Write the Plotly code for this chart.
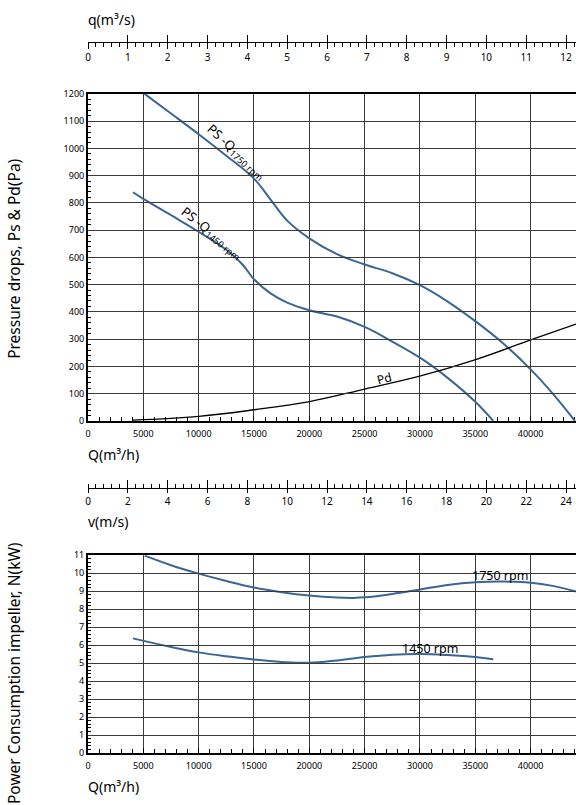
import plotly.graph_objects as go

W, H = 576, 805
L = 88
FONT = "Noto Sans"
BLUE = "#3b6592"

# ---------------- data ----------------
Q_MAX = 44100  # m3/h at right edge

# Static pressure 1750 rpm
Q_ps1750 = [5115, 7500, 10000, 12500, 15000, 16500, 18000, 20000, 22500, 25000, 27500, 30000, 32500, 35000, 37500, 40000, 42000, 44000]
P_ps1750 = [1200, 1128, 1052, 973, 889, 812, 735, 670, 612, 574, 542, 498, 438, 366, 285, 189, 100, 0]

# Static pressure 1450 rpm
Q_ps1450 = [4060, 5000, 7500, 10000, 12500, 14000, 15000, 16500, 18000, 20000, 22500, 25000, 27500, 30000, 32500, 35000, 36620]
P_ps1450 = [839, 815, 755, 694, 628, 572, 520, 468, 434, 406, 383, 345, 291, 232, 158, 70, 0]

# Dynamic pressure
Q_pd = [4060, 10010, 15040, 20030, 25020, 30050, 35030, 40000, 44100]
P_pd = [3, 17, 41, 71, 117, 165, 225, 297, 355]

# Power consumption
Q_n1750 = [5115, 7500, 10000, 12500, 15000, 17500, 20000, 22500, 24000, 25000, 27500, 30000, 32500, 35000, 37500, 40000, 42000, 44100]
N_n1750 = [10.98, 10.45, 9.98, 9.57, 9.21, 8.95, 8.76, 8.65, 8.63, 8.66, 8.85, 9.10, 9.35, 9.50, 9.54, 9.48, 9.30, 8.99]

Q_n1450 = [4060, 7500, 10000, 12500, 15000, 17500, 20000, 22500, 25000, 27500, 30000, 32500, 35000, 36620]
N_n1450 = [6.38, 5.90, 5.60, 5.38, 5.20, 5.07, 5.02, 5.15, 5.34, 5.47, 5.51, 5.45, 5.34, 5.22]

# axis conversions: q = Q/3600 (m3/s), v = 2*q (m/s)
q_max = Q_MAX / 3600.0
v_max = 2 * q_max

# ---------------- helpers ----------------
def py(p):
    return 1 - p / H

def pxx(p):
    return (p - L) / (W - L)

top_dom = [py(420.7), py(88.3)]
bot_dom = [py(758.3), py(557.3)]

fig = go.Figure()

def line(x, y, xa, ya, color, width):
    fig.add_trace(go.Scatter(x=x, y=y, xaxis=xa, yaxis=ya, mode="lines",
                             line=dict(color=color, width=width, shape="spline", smoothing=1.1),
                             hoverinfo="skip", showlegend=False, cliponaxis=True))

# dummy traces so the scale-only axes are drawn
for xa in ["x3", "x4"]:
    fig.add_trace(go.Scatter(x=[None], y=[None], xaxis=xa, yaxis="y", showlegend=False, hoverinfo="skip"))
for xa in ["x5", "x6"]:
    fig.add_trace(go.Scatter(x=[None], y=[None], xaxis=xa, yaxis="y2", showlegend=False, hoverinfo="skip"))

line(Q_ps1750, P_ps1750, "x", "y", BLUE, 2)
line(Q_ps1450, P_ps1450, "x", "y", BLUE, 2)
line(Q_pd, P_pd, "x", "y", "black", 1.3)
line(Q_n1750, N_n1750, "x2", "y2", BLUE, 2)
line(Q_n1450, N_n1450, "x2", "y2", BLUE, 2)

tickfont = dict(family=FONT, size=10, color="black")
xtickfont = dict(family=FONT, size=9, color="black")
grid = dict(showgrid=True, gridcolor="#3a3a3a", gridwidth=1)

xbase = dict(domain=[0, 1], range=[0, Q_MAX], dtick=5000, tick0=0, tickformat="d",
             ticks="inside", ticklen=5, tickcolor="black",
             minor=dict(dtick=1000, ticks="inside", ticklen=4, tickcolor="black"),
             showline=True, linecolor="black", linewidth=2, mirror=True, zeroline=False,
             tickfont=xtickfont, ticklabelstandoff=3, layer="below traces", **grid)

fig.update_layout(
    width=W, height=H,
    margin=dict(l=L, r=0, t=0, b=0, pad=0),
    paper_bgcolor="white", plot_bgcolor="rgba(0,0,0,0)",
    showlegend=False,
    font=dict(family=FONT, color="black"),
    xaxis=dict(anchor="y", **xbase),
    yaxis=dict(domain=top_dom, anchor="x", range=[0, 1200], dtick=100, ticks="inside", ticklen=5,
               tickcolor="black", minor=dict(dtick=20, ticks="inside", ticklen=3, tickcolor="black"),
               showline=True, linecolor="black", linewidth=2, zeroline=False,
               tickfont=dict(family=FONT, size=9, color="black"), **grid),
    xaxis2=dict(anchor="y2", **xbase),
    yaxis2=dict(domain=bot_dom, anchor="x2", range=[0, 11], dtick=1, ticks="inside", ticklen=5,
                tickcolor="black", minor=dict(dtick=0.2, ticks="inside", ticklen=3, tickcolor="black"),
                showline=True, linecolor="black", linewidth=2, zeroline=False,
                tickfont=dict(family=FONT, size=9, color="black"), **grid),
    # q axis (m3/s)
    xaxis3=dict(domain=[0, 1], anchor="free", position=py(35.7), range=[0, q_max], dtick=1, tick0=0,
                ticks="outside", ticklen=6, tickcolor="black",
                minor=dict(dtick=0.2, ticks="outside", ticklen=4, tickcolor="black"),
                showline=True, linecolor="black", linewidth=1, showgrid=False, zeroline=False,
                tickfont=tickfont),
    xaxis4=dict(overlaying="x3", anchor="free", position=py(35.7), range=[0, q_max], dtick=1, tick0=0,
                ticks="inside", ticklen=7, tickcolor="black", showticklabels=False,
                showline=False, showgrid=False, zeroline=False),
    # v axis (m/s)
    xaxis5=dict(domain=[0, 1], anchor="free", position=py(489.3), range=[0, v_max], dtick=2, tick0=0,
                ticks="outside", ticklen=4, tickcolor="black",
                minor=dict(dtick=0.4, ticks="inside", ticklen=4, tickcolor="black"),
                showline=True, linecolor="black", linewidth=1, showgrid=False, zeroline=False,
                tickfont=tickfont),
    xaxis6=dict(overlaying="x5", anchor="free", position=py(489.3), range=[0, v_max], dtick=2, tick0=0,
                ticks="inside", ticklen=8, tickcolor="black", showticklabels=False,
                showline=False, showgrid=False, zeroline=False),
)

ann = []
def title(text, xpx, ypx, size=14):
    ann.append(dict(text=text, xref="paper", yref="paper", x=pxx(xpx), y=py(ypx),
                    xanchor="left", yanchor="middle", showarrow=False,
                    font=dict(family=FONT, size=size, color="black")))

title("q(m³/s)", 86, 13)
title("Q(m³/h)", 86, 455)
title("v(m/s)", 86, 523)
title("Q(m³/h)", 86, 792)

for text, ycen in [("Pressure drops, Ps &amp; Pd(Pa)", 256), ("Power Consumption impeller, N(kW)", 677)]:
    ann.append(dict(text=text, xref="paper", yref="paper", x=pxx(14), y=py(ycen),
                    xanchor="center", yanchor="middle", textangle=-90, showarrow=False,
                    font=dict(family=FONT, size=15.5, color="black")))

def label(text, x, y, xr, yr, angle=0, size=12):
    ann.append(dict(text=text, xref=xr, yref=yr, x=x, y=y, xanchor="center", yanchor="middle",
                    textangle=angle, showarrow=False, font=dict(family=FONT, size=size, color="black")))

label("PS -Q<sub>1750 rpm</sub>", 13400, 985, "x", "y", 42, 13)
label("PS -Q<sub>1450 rpm</sub>", 11200, 690, "x", "y", 38, 13)
label("Pd", 26760, 155, "x", "y", -14, 12)
label("1750 rpm", 37200, 9.85, "x2", "y2", 0, 12.5)
label("1450 rpm", 30890, 5.83, "x2", "y2", 0, 12.5)

fig.update_layout(annotations=ann)
fig.write_html("out.html")
